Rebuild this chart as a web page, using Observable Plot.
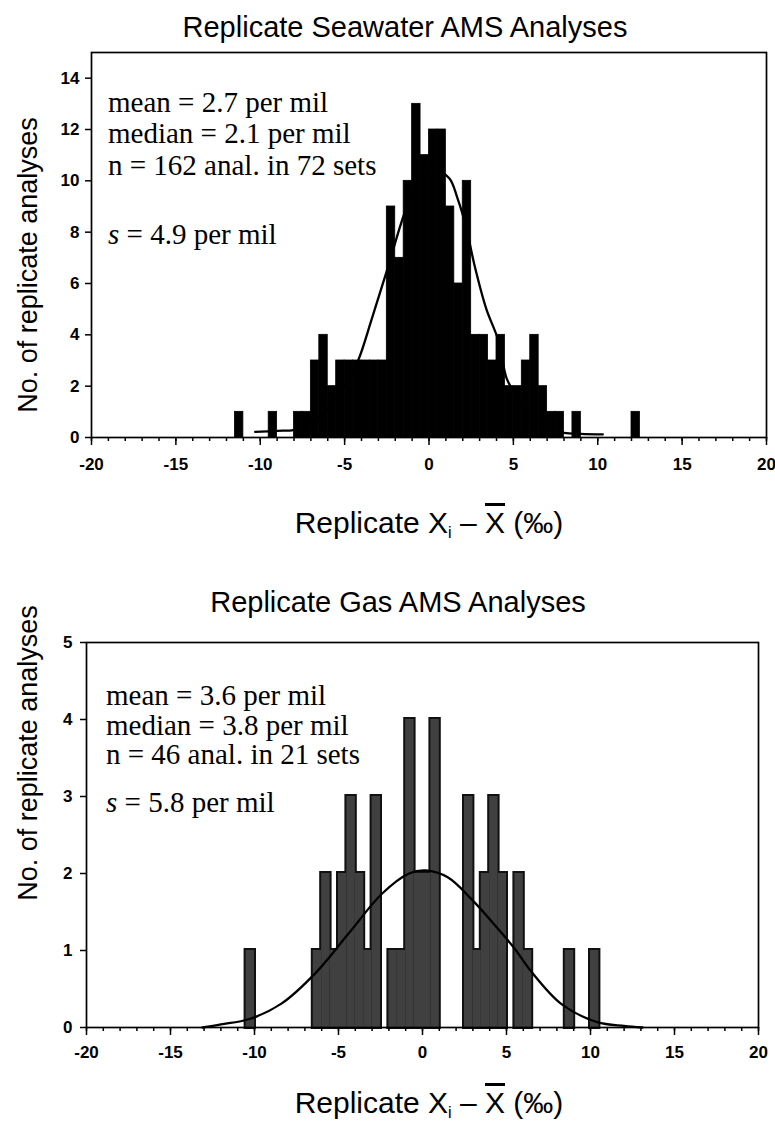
<!DOCTYPE html>
<html><head><meta charset="utf-8">
<script src="https://cdn.jsdelivr.net/npm/d3@7"></script>
<script src="https://cdn.jsdelivr.net/npm/@observablehq/plot@0.6"></script>
<style>
body{margin:0;background:#fff;}
#page{position:relative;width:775px;height:1129px;overflow:hidden;background:#fff;font-family:"Liberation Sans",Arial,sans-serif;color:#000;}
#page svg{position:absolute;left:0;}
.xlab{position:absolute;left:0;width:858px;text-align:center;font-size:30px;line-height:34px;white-space:nowrap;}
.xlab sub{font-size:16px;vertical-align:-5px;}
.ov{text-decoration:overline;text-decoration-thickness:2.5px;}
</style></head>
<body><div id="page"></div>
<script>
// ---- data ----
const binWidth = 0.5;
const seawaterBinStart = [-11.5,-9.5,-8,-7.5,-7,-6.5,-6,-5.5,-5,-4.5,-4,-3.5,-3,-2.5,-2,-1.5,-1,-0.5,0,0.5,1,1.5,2,2.5,3,3.5,4,4.5,5,5.5,6,6.5,7,7.5,8.5,12];
const seawaterCounts   = [1,1,1,1,3,4,2,3,3,3,3,3,3,9,7,10,13,11,12,12,9,6,10,4,4,3,4,2,2,3,4,2,1,1,1,1];
const seawaterCurveX = [-10.3,-9,-8,-7,-6,-5,-4.2,-3.4,-2.4,-1.3,-0.4,0.4,1.2,1.7,2.2,2.7,3.4,4.1,4.6,5.0,5.5,6,7,8,9,10.3];
const seawaterCurveY = [0.22,0.26,0.3,0.6,1.1,2.0,3.0,4.6,6.7,9.0,10.1,10.4,10.1,9.3,8.2,6.7,5.0,3.8,2.3,1.8,1.2,0.8,0.35,0.18,0.14,0.12];

const gasBinStart = [-10.5,-6.5,-6,-5.5,-5,-4.5,-4,-3.5,-3,-2,-1.5,-1,-0.5,0,0.5,2.5,3,3.5,4,4.5,5.5,6,8.5,10];
const gasCounts   = [1,1,2,1,2,3,2,1,3,1,1,4,2,2,4,3,1,2,3,2,2,1,1,1];
const gasCurveX = [-13.1,-12,-10.3,-8.4,-6.4,-4.4,-2.4,-0.8,0.2,1.5,2.9,4.5,5.5,6.5,8.3,10.4,12,13.1];
const gasCurveY = [0,0.04,0.11,0.31,0.7,1.22,1.74,2.0,2.04,1.95,1.67,1.28,1.02,0.72,0.3,0.07,0.02,0];

const xMajorTicks = [-20,-15,-10,-5,0,5,10,15,20];
const xMinorTicks = [-20,-19,-18,-17,-16,-15,-14,-13,-12,-11,-10,-9,-8,-7,-6,-5,-4,-3,-2,-1,0,1,2,3,4,5,6,7,8,9,10,11,12,13,14,15,16,17,18,19,20];
const seawaterYTicks = [0,2,4,6,8,10,12,14];
const gasYTicks = [0,1,2,3,4,5];

const seawaterTitle = "Replicate Seawater AMS Analyses";
const gasTitle = "Replicate Gas AMS Analyses";
const yTitle = "No. of replicate analyses";
const seawaterNotes = ["mean = 2.7 per mil","median = 2.1 per mil","n = 162 anal. in 72 sets"];
const seawaterS = " = 4.9 per mil";
const gasNotes = ["mean = 3.6 per mil","median = 3.8 per mil","n = 46 anal. in 21 sets"];
const gasS = " = 5.8 per mil";

// ---- charts ----
function makePlot(cfg){
  const bins = cfg.starts.map((s,i)=>({x1:s,x2:s+binWidth,n:cfg.counts[i]}));
  const curve = cfg.curveX.map((x,i)=>({x,y:cfg.curveY[i]}));
  const bars = cfg.gas ? [
    Plot.rect(bins,{x1:"x1",x2:"x2",y1:0,y2:"n",fill:"#111",stroke:"#111",strokeWidth:4}),
    Plot.rect(bins,{x1:"x1",x2:"x2",y1:0,y2:"n",fill:"#404040"})
  ] : [
    Plot.rect(bins,{x1:"x1",x2:"x2",y1:0,y2:"n",fill:"#000",stroke:"#000",strokeWidth:0.8})
  ];
  return Plot.plot({
    width:775, height:cfg.height,
    marginLeft:cfg.ml, marginRight:cfg.mr, marginTop:cfg.mt, marginBottom:cfg.mb,
    x:{domain:[-20,20], label:null},
    y:{domain:[0,cfg.yMax], label:null},
    style:{fontFamily:"'Liberation Sans', Arial, sans-serif", fontSize:"17px", fontWeight:"bold", color:"#000", background:"transparent"},
    marks:[
      ...bars,
      Plot.line(curve,{x:"x",y:"y",stroke:"#000",strokeWidth:2.3,curve:"catmull-rom"}),
      Plot.axisX({ticks:xMinorTicks, tickSize:4, tickFormat:()=>"", label:null, strokeWidth:1.5}),
      Plot.axisX({ticks:xMajorTicks, tickSize:8, tickPadding:cfg.xPad, tickFormat:d=>String(d), label:null, strokeWidth:1.5}),
      Plot.axisY({ticks:cfg.yTicks, tickSize:6, tickPadding:cfg.yPad, tickFormat:d=>String(d), label:null, strokeWidth:1.5}),
      Plot.frame({stroke:"#000", strokeWidth:1.7})
    ]
  });
}

const page = document.getElementById("page");
const top1 = makePlot({starts:seawaterBinStart,counts:seawaterCounts,curveX:seawaterCurveX,curveY:seawaterCurveY,
  gas:false,height:500,ml:91,mr:9,mt:52,mb:63,yMax:15,yTicks:seawaterYTicks,xPad:12,yPad:6});
top1.style.top="0px";
page.appendChild(top1);
const bot = makePlot({starts:gasBinStart,counts:gasCounts,curveX:gasCurveX,curveY:gasCurveY,
  gas:true,height:520,ml:86,mr:17,mt:82,mb:53,yMax:5,yTicks:gasYTicks,xPad:10,yPad:8});
bot.style.top="560px";
page.appendChild(bot);

// ---- text overlay ----
const ov = d3.select(page).append("svg").attr("width",775).attr("height",1129).style("top","0px").style("pointer-events","none");
function title(t,x,y){ov.append("text").attr("x",x).attr("y",y).attr("text-anchor","middle")
  .style("font-family","'Liberation Sans', Arial, sans-serif").style("font-size","29px").text(t);}
title(seawaterTitle,405,37);
title(gasTitle,398,612);
function ylab(cy){ov.append("text").attr("transform",`translate(37,${cy}) rotate(-90)`).attr("text-anchor","middle")
  .style("font-family","'Liberation Sans', Arial, sans-serif").style("font-size","27px").text(yTitle);}
ylab(265); ylab(753);
function notes(lines,sText,x,ys,sy){
  const g = ov.append("g").style("font-family","'Liberation Serif','Times New Roman',serif").style("font-size","29px");
  lines.forEach((l,i)=>g.append("text").attr("x",x).attr("y",ys[i]).text(l));
  const t = g.append("text").attr("x",x).attr("y",sy);
  t.append("tspan").style("font-style","italic").text("s");
  t.append("tspan").text(sText);
}
notes(seawaterNotes,seawaterS,108,[112,143,175],244);
notes(gasNotes,gasS,106,[705,734.5,764],812);

function xlab(topPx){
  const d = document.createElement("div");
  d.className="xlab"; d.style.top=topPx+"px";
  d.innerHTML='Replicate X<sub>i</sub> – <span class="ov">X</span> (‰)';
  page.appendChild(d);
}
xlab(506); xlab(1086);
</script>
</body></html>
